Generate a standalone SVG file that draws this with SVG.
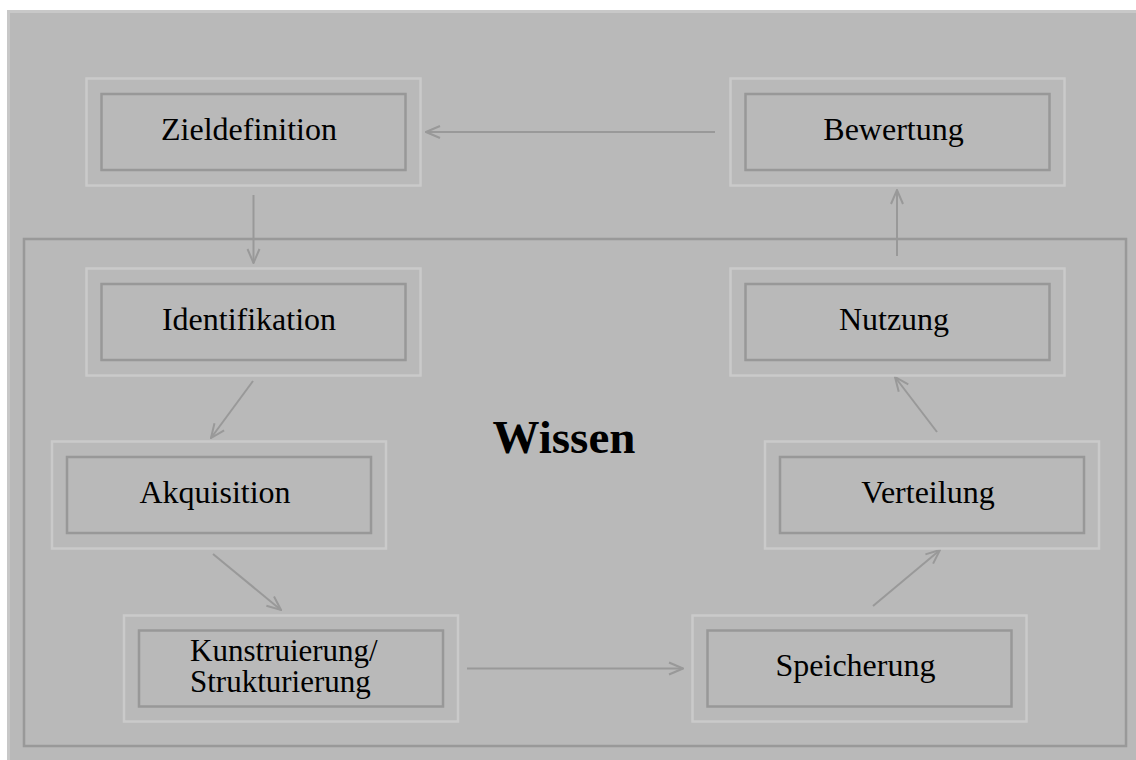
<svg xmlns="http://www.w3.org/2000/svg" width="1136" height="760" viewBox="0 0 1136 760">
<defs>
<style>
.outer{fill:none;stroke:#cacaca;stroke-width:2.5}
.inner{fill:none;stroke:#989898;stroke-width:2.5}
.lbl{font-family:"Liberation Serif","Times New Roman",serif;font-size:32px;fill:#000;text-anchor:middle}
.lbl2{font-family:"Liberation Serif","Times New Roman",serif;font-size:31px;fill:#000;text-anchor:start}
.conn{stroke:#999;stroke-width:2;fill:none;marker-end:url(#ah)}
</style>
<marker id="ah" markerUnits="userSpaceOnUse" markerWidth="16" markerHeight="16" viewBox="0 0 16 16" refX="15" refY="8" orient="auto">
<path d="M1,2 L15,8 L1,14" fill="none" stroke="#999" stroke-width="2"/>
</marker>
</defs>
<rect x="0" y="0" width="1136" height="760" fill="#ffffff"/>
<rect x="8.5" y="11.5" width="1140" height="760" fill="#b9b9b9" stroke="#c8c8c8" stroke-width="3"/>
<rect id="wissen-frame" x="24" y="239" width="1102" height="507" fill="none" stroke="#999" stroke-width="2.5"/>
<text id="wissen" x="564" y="453" font-family="Liberation Serif,'Times New Roman',serif" font-size="47" font-weight="bold" text-anchor="middle" fill="#000">Wissen</text>
<g id="connectors">
<line class="conn" x1="715" y1="132" x2="426" y2="132"/>
<line class="conn" x1="253.5" y1="195" x2="253.5" y2="263"/>
<line class="conn" x1="897" y1="256" x2="897" y2="190"/>
<line class="conn" x1="253" y1="381" x2="211" y2="438"/>
<line class="conn" x1="213" y1="554" x2="281" y2="610"/>
<line class="conn" x1="467" y1="668.5" x2="683" y2="668.5"/>
<line class="conn" x1="873" y1="606" x2="940" y2="550"/>
<line class="conn" x1="937" y1="432" x2="895" y2="377"/>
</g>
<g id="zieldefinition">
<rect class="outer" x="86.5" y="78.5" width="334" height="107"/>
<rect class="inner" x="101.5" y="94" width="304" height="76"/>
<text class="lbl" x="249" y="140">Zieldefinition</text>
</g>
<g id="bewertung">
<rect class="outer" x="730.5" y="78.5" width="334" height="107"/>
<rect class="inner" x="745.5" y="94" width="304" height="76"/>
<text class="lbl" x="893.5" y="140">Bewertung</text>
</g>
<g id="identifikation">
<rect class="outer" x="86.5" y="268.5" width="334" height="107"/>
<rect class="inner" x="101.5" y="284" width="304" height="76"/>
<text class="lbl" x="249" y="330">Identifikation</text>
</g>
<g id="nutzung">
<rect class="outer" x="730.5" y="268.5" width="334" height="107"/>
<rect class="inner" x="745.5" y="284" width="304" height="76"/>
<text class="lbl" x="894" y="330">Nutzung</text>
</g>
<g id="akquisition">
<rect class="outer" x="52" y="441.5" width="334" height="107"/>
<rect class="inner" x="67" y="457" width="304" height="76"/>
<text class="lbl" x="215" y="503">Akquisition</text>
</g>
<g id="verteilung">
<rect class="outer" x="765" y="441.5" width="334" height="107"/>
<rect class="inner" x="780" y="457" width="304" height="76"/>
<text class="lbl" x="928" y="503">Verteilung</text>
</g>
<g id="kunstruierung">
<rect class="outer" x="124" y="615.5" width="334" height="106"/>
<rect class="inner" x="139" y="630.5" width="304" height="76"/>
<text class="lbl2" x="190" y="660.5">Kunstruierung/</text>
<text class="lbl2" x="190" y="692">Strukturierung</text>
</g>
<g id="speicherung">
<rect class="outer" x="692.5" y="615.5" width="334" height="106"/>
<rect class="inner" x="707.5" y="630.5" width="304" height="76"/>
<text class="lbl" x="855.5" y="676">Speicherung</text>
</g>
</svg>
